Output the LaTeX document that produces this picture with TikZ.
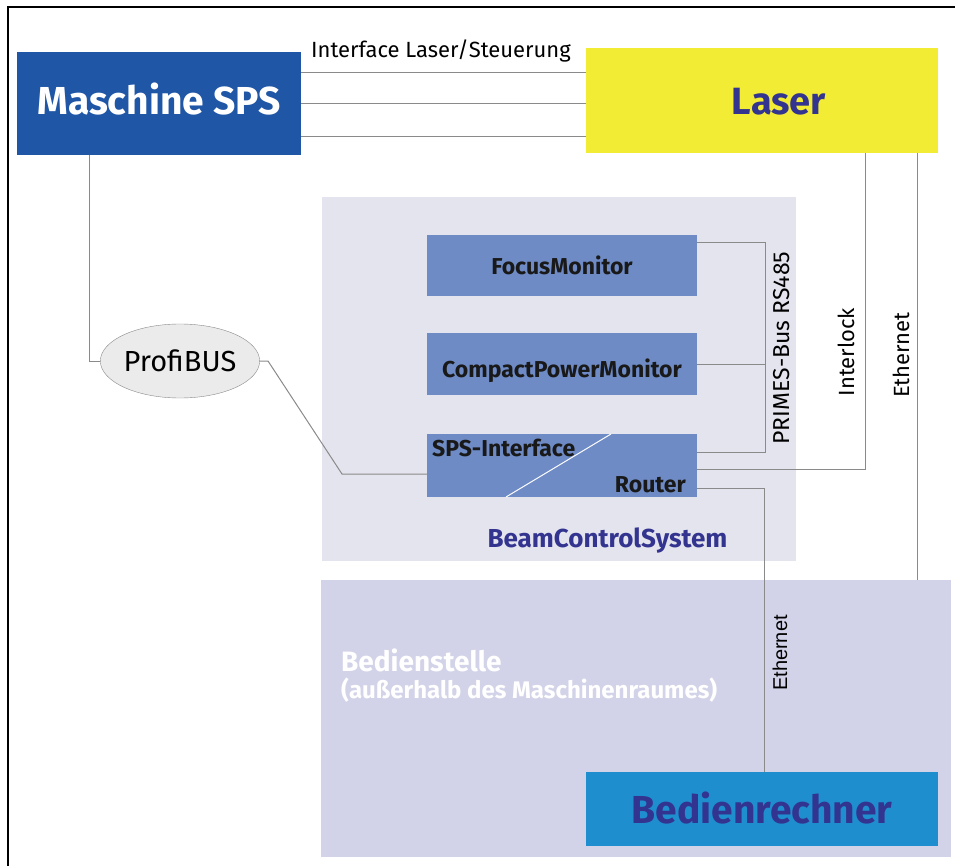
\documentclass[tikz,border=0pt]{standalone}
\usepackage{fontspec}
\setmainfont{Fira Sans}
\newfontfamily\arialfont{Liberation Sans}
\usetikzlibrary{calc,shapes.geometric}
\definecolor{spsblue}{HTML}{1F56A5}
\definecolor{laseryellow}{HTML}{F3EC35}
\definecolor{inkblue}{HTML}{33348F}
\definecolor{beamgray}{HTML}{E4E4EE}
\definecolor{modblue}{HTML}{6E8BC6}
\definecolor{bedgray}{HTML}{D2D3E8}
\definecolor{pcblue}{HTML}{1E8ECF}
\definecolor{wire}{HTML}{8A8A8A}
\newcommand{\fs}[1]{\fontsize{#1}{#1}\selectfont}

\begin{document}
\begin{tikzpicture}[x=1pt,y=-1pt,
   box/.style={inner sep=0pt,outer sep=0pt,anchor=center},
   modul/.style={box,fill=modblue,minimum width=270pt},
   modtext/.style={font=\fs{23}\bfseries,text=black!90},
   wirel/.style={draw=wire,line width=1pt},
   vlabel/.style={rotate=90,inner sep=0pt,font=\fs{22}}]
   \useasboundingbox (0,0) rectangle (955,866);
   \draw[line width=1.5pt] (8,866) -- (8,7) -- (955,7);
   % panels
   \node[box,fill=beamgray,minimum width=474pt,minimum height=364pt] (beam) at (559,379) {};
   \node[box,fill=bedgray,minimum width=630pt,minimum height=277pt] (bed) at (636,718.5) {};
   \node[font=\fs{26}\bfseries,text=inkblue,inner sep=0pt] (beamlbl) at (607.5,541) {BeamControlSystem};
   \node[font=\fs{28}\bfseries,text=white,inner sep=0pt,anchor=west] (bedlbl) at (341,660) {Bedienstelle};
   \node[font=\fs{24}\bfseries,text=white,inner sep=0pt,anchor=west] (bedlbl2) at (341,690) {(außerhalb des Maschinenraumes)};
   % main boxes
   \node[box,fill=spsblue,minimum width=284pt,minimum height=103pt,text height=23pt,text depth=0pt,font=\fs{39}\bfseries,text=white] (sps) at (159,103.5) {Maschine SPS};
   \node[box,fill=laseryellow,minimum width=352pt,minimum height=105pt,text height=29pt,text depth=0pt,font=\fs{38}\bfseries,text=inkblue] (laser) at (762,100.5) {\hspace*{34pt}Laser};
   \node[box,fill=pcblue,minimum width=352pt,minimum height=74pt,text height=28pt,text depth=0pt,font=\fs{39}\bfseries,text=inkblue] (pc) at (762,809) {Bedienrechner};
   \node[draw=wire,fill=black!8,ellipse,minimum width=148pt,minimum height=74pt,inner sep=0pt,font=\fs{29}] (pb) at (180,361) {ProfiBUS};
   % BeamControlSystem modules
   \node[modul,minimum height=61pt,modtext] (focus) at (562,265.5) {FocusMonitor};
   \node[modul,minimum height=62pt,text height=26pt,text depth=0pt,modtext] (cpm) at (562,364) {CompactPowerMonitor};
   \node[modul,minimum height=63pt] (rtr) at (562,465.5) {};
   \draw[white,line width=1pt] (611,434) -- (506,497);
   \node[modtext,inner sep=0pt,anchor=west] (spsif) at (432,448) {SPS-Interface};
   \node[modtext,inner sep=0pt,anchor=east] (router) at (686,485) {Router};
   % Interface Laser/Steuerung
   \node[font=\fs{22},inner sep=0pt] (iflbl) at (441,51) {Interface Laser/Steuerung};
   \coordinate (s1) at ([yshift=30.5pt]sps.east);
   \coordinate (s2) at ([yshift=0pt]sps.east);
   \coordinate (s3) at ([yshift=-33.5pt]sps.east);
   \foreach \s in {s1,s2,s3}
      \draw[wirel] (\s) -- (\s -| laser.west);
   % ProfiBUS
   \coordinate (spsdown) at (89,155);
   \draw[wirel] (spsdown) |- (pb.west);
   \coordinate (pb1) at (268,361);
   \coordinate (pb2) at (342,474);
   \draw[wirel] (pb.east) -- (pb1) -- (pb2) -- (pb2 -| rtr.west);
   % PRIMES-Bus
   \coordinate (bus) at (765,300);
   \coordinate (f1) at ([yshift=22.5pt]focus.east);
   \coordinate (r1) at ([yshift=13.5pt]rtr.east);
   \draw[wirel] (f1) -- (f1 -| bus) -- (r1 -| bus) -- (r1);
   \draw[wirel] (cpm.east) -- (cpm.east -| bus);
   \node[vlabel,font=\fs{23}] (buslbl) at (782,348) {PRIMES-Bus RS485};
   % Interlock
   \coordinate (r2) at ([yshift=-3.5pt]rtr.east);
   \coordinate (il) at (865,153);
   \draw[wirel] (r2) -| (il);
   \node[vlabel] (illbl) at (846,352) {Interlock};
   % Ethernet
   \coordinate (eth) at (917,153);
   \draw[wirel] (eth) -- (eth |- bed.north);
   \node[vlabel] (ethlbl) at (901,355) {Ethernet};
   \coordinate (r3) at ([yshift=-22.5pt]rtr.east);
   \coordinate (pcup) at (764,772);
   \draw[wirel] (r3) -| (pcup);
   \node[vlabel,font=\fs{20}\arialfont] (ethlbl2) at (780,653) {Ethernet};
\end{tikzpicture}
\end{document}
